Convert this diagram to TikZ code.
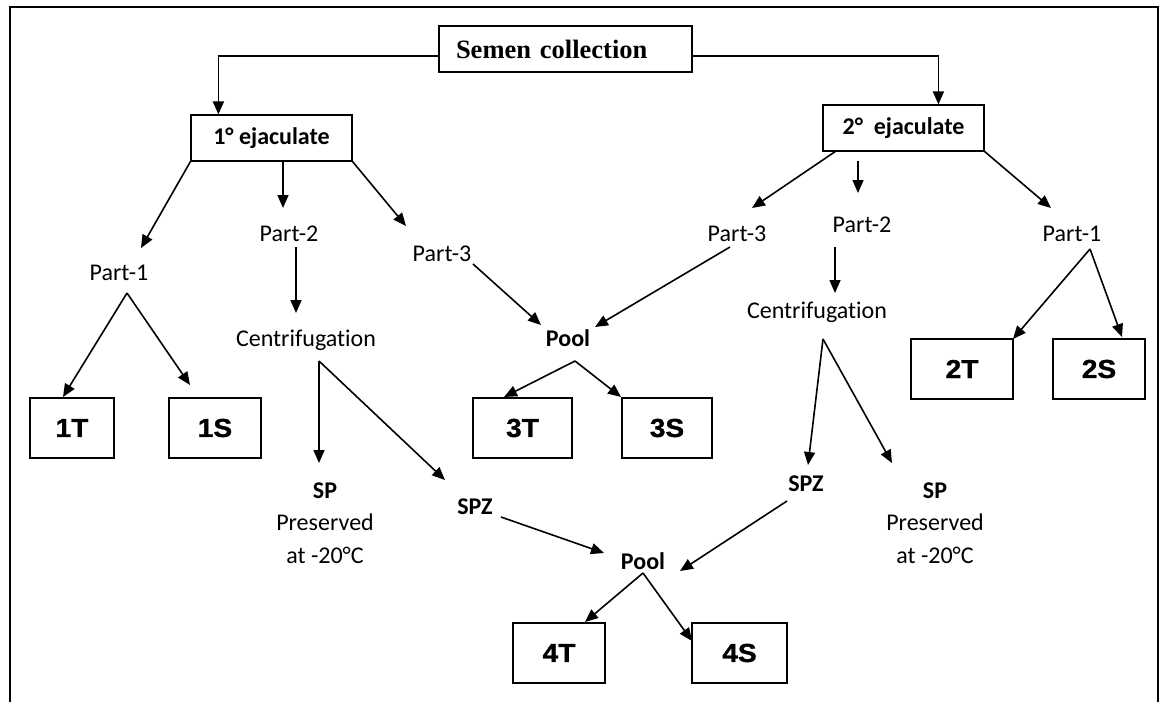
\documentclass[tikz,border=0pt]{standalone}
\usepackage{fontspec}
\setmainfont{Carlito}[Ligatures={NoCommon}]
\newfontfamily\serifb{Liberation Serif}
\newfontfamily\arialb{Liberation Sans}[FakeBold=1.2,FakeStretch=1.08]
\usetikzlibrary{arrows.meta}
\begin{document}
\begin{tikzpicture}[x=1pt,y=-1pt,
  conn/.style={line width=1.6pt,-{Triangle[length=13pt,width=11pt]}},
  headbox/.style={draw,line width=1.2pt,minimum height=46pt,inner sep=0pt,font=\fontsize{24}{28}\selectfont\bfseries},
  resbox/.style={draw,line width=1.2pt,minimum height=60pt,inner sep=0pt,font=\arialb\fontsize{26}{30}\selectfont\bfseries},
  lbl/.style={inner sep=0pt,anchor=base,font=\fontsize{24}{28}\selectfont},
  blbl/.style={inner sep=0pt,anchor=base,font=\fontsize{24}{28}\selectfont\bfseries},
  spblock/.style={inner sep=0pt,align=center,font=\fontsize{24}{32.5}\selectfont}]
\useasboundingbox (0,0) rectangle (1164,702);
\draw[line width=1.5pt] (10,702) -- (10,7) -- (1158,7) -- (1158,702);

% boxes
\node[draw,line width=1.2pt,minimum height=46pt,inner xsep=17pt,inner ysep=0pt,text width=219pt,align=left,font=\serifb\fontsize{26.5}{30}\selectfont\bfseries] (sc) at (565.5,49) {Semen collection};
\node[headbox,minimum width=161pt] (e1) at (271.5,138) {1° ejaculate};
\node[headbox,minimum width=161pt] (e2) at (903.5,128) {2°\ \ ejaculate};
\node[resbox,minimum width=84pt] (r1T) at (72,428) {1T};
\node[resbox,minimum width=92pt] (r1S) at (215,428) {1S};
\node[resbox,minimum width=99pt] (r3T) at (522.5,428) {3T};
\node[resbox,minimum width=90pt] (r3S) at (667,428) {3S};
\node[resbox,minimum width=102pt] (r2T) at (962,369) {2T};
\node[resbox,minimum width=92pt] (r2S) at (1099,369) {2S};
\node[resbox,minimum width=92pt] (r4T) at (559,653) {4T};
\node[resbox,minimum width=95pt] (r4S) at (739.5,653) {4S};

% labels
\node[lbl] (p1L) at (119,280) {Part-1};
\node[lbl] (p2L) at (289,241) {Part-2};
\node[lbl] (p3L) at (442,261) {Part-3};
\node[lbl] (cenL) at (306,346) {Centrifugation};
\node[spblock] (spL) at (325,523) {\textbf{SP}\\Preserved\\at -20°C};
\node[blbl] (spzL) at (475,514) {SPZ};
\node[blbl] (pool3) at (568,346) {Pool};
\node[blbl] (pool4) at (643,569) {Pool};
\node[lbl] (p3R) at (737,241) {Part-3};
\node[lbl] (p2R) at (862,232) {Part-2};
\node[lbl] (p1R) at (1072,241) {Part-1};
\node[lbl] (cenR) at (817,318) {Centrifugation};
\node[blbl] (spzR) at (806,491) {SPZ};
\node[spblock] (spR) at (935,523) {\textbf{SP}\\Preserved\\at -20°C};

% connector points
\coordinate (a1) at (141,248);
\coordinate (a2s) at (283,162);
\coordinate (a2) at (283,208);
\coordinate (a3) at (406,226);
\coordinate (b1) at (127,293);
\coordinate (b1T) at (63,397);
\coordinate (b1S) at (190,385);
\coordinate (c2s) at (296,247);
\coordinate (c2) at (296,313);
\coordinate (cl) at (319,361);
\coordinate (clsp) at (319,463);
\coordinate (clspz) at (445,480);
\coordinate (d3s) at (473,264);
\coordinate (d3) at (541,325);
\coordinate (d3rs) at (730,247);
\coordinate (d3r) at (595,327);
\coordinate (pp3) at (575,361);
\coordinate (t3T) at (504,397);
\coordinate (t3S) at (621,397);
\coordinate (szl) at (501,517);
\coordinate (szlt) at (604,553);
\coordinate (szr) at (787,501);
\coordinate (szrt) at (680,571);
\coordinate (pp4) at (643,573);
\coordinate (t4T) at (585,622);
\coordinate (t4S) at (692,641);
\coordinate (e2a) at (836,151);
\coordinate (e2at) at (752,208);
\coordinate (e2b) at (858,151);
\coordinate (e2bt) at (858,193);
\coordinate (e2c) at (984,151);
\coordinate (e2ct) at (1051,208);
\coordinate (f2s) at (835,247);
\coordinate (f2) at (835,293);
\coordinate (cr) at (823,339);
\coordinate (crspz) at (808,465);
\coordinate (crsp) at (892,463);
\coordinate (g1) at (1090,249);
\coordinate (g2T) at (1013,339);
\coordinate (g2S) at (1122,337);

% connectors
\draw[conn] ([yshift=-7pt]sc.west) -| ([xshift=28pt]e1.north west);
\draw[conn] ([yshift=-7pt]sc.east) -| ([xshift=116pt]e2.north west);
\draw[conn] (e1.south west) -- (a1);
\draw[conn] (a2s) -- (a2);
\draw[conn] (e1.south east) -- (a3);
\draw[conn] (b1) -- (b1T);
\draw[conn] (b1) -- (b1S);
\draw[conn] (c2s) -- (c2);
\draw[conn] (cl) -- (clsp);
\draw[conn] (cl) -- (clspz);
\draw[conn] (d3s) -- (d3);
\draw[conn] (d3rs) -- (d3r);
\draw[conn] (pp3) -- (t3T);
\draw[conn] (pp3) -- (t3S);
\draw[conn] (szl) -- (szlt);
\draw[conn] (szr) -- (szrt);
\draw[conn] (pp4) -- (t4T);
\draw[conn] (pp4) -- (t4S);
\draw[conn] (e2a) -- (e2at);
\draw[conn] ([yshift=-10pt]e2b) -- (e2bt);
\draw[conn] (e2c) -- (e2ct);
\draw[conn] (f2s) -- (f2);
\draw[conn] (cr) -- (crspz);
\draw[conn] (cr) -- (crsp);
\draw[conn] (g1) -- (g2T);
\draw[conn] (g1) -- (g2S);
\end{tikzpicture}
\end{document}
